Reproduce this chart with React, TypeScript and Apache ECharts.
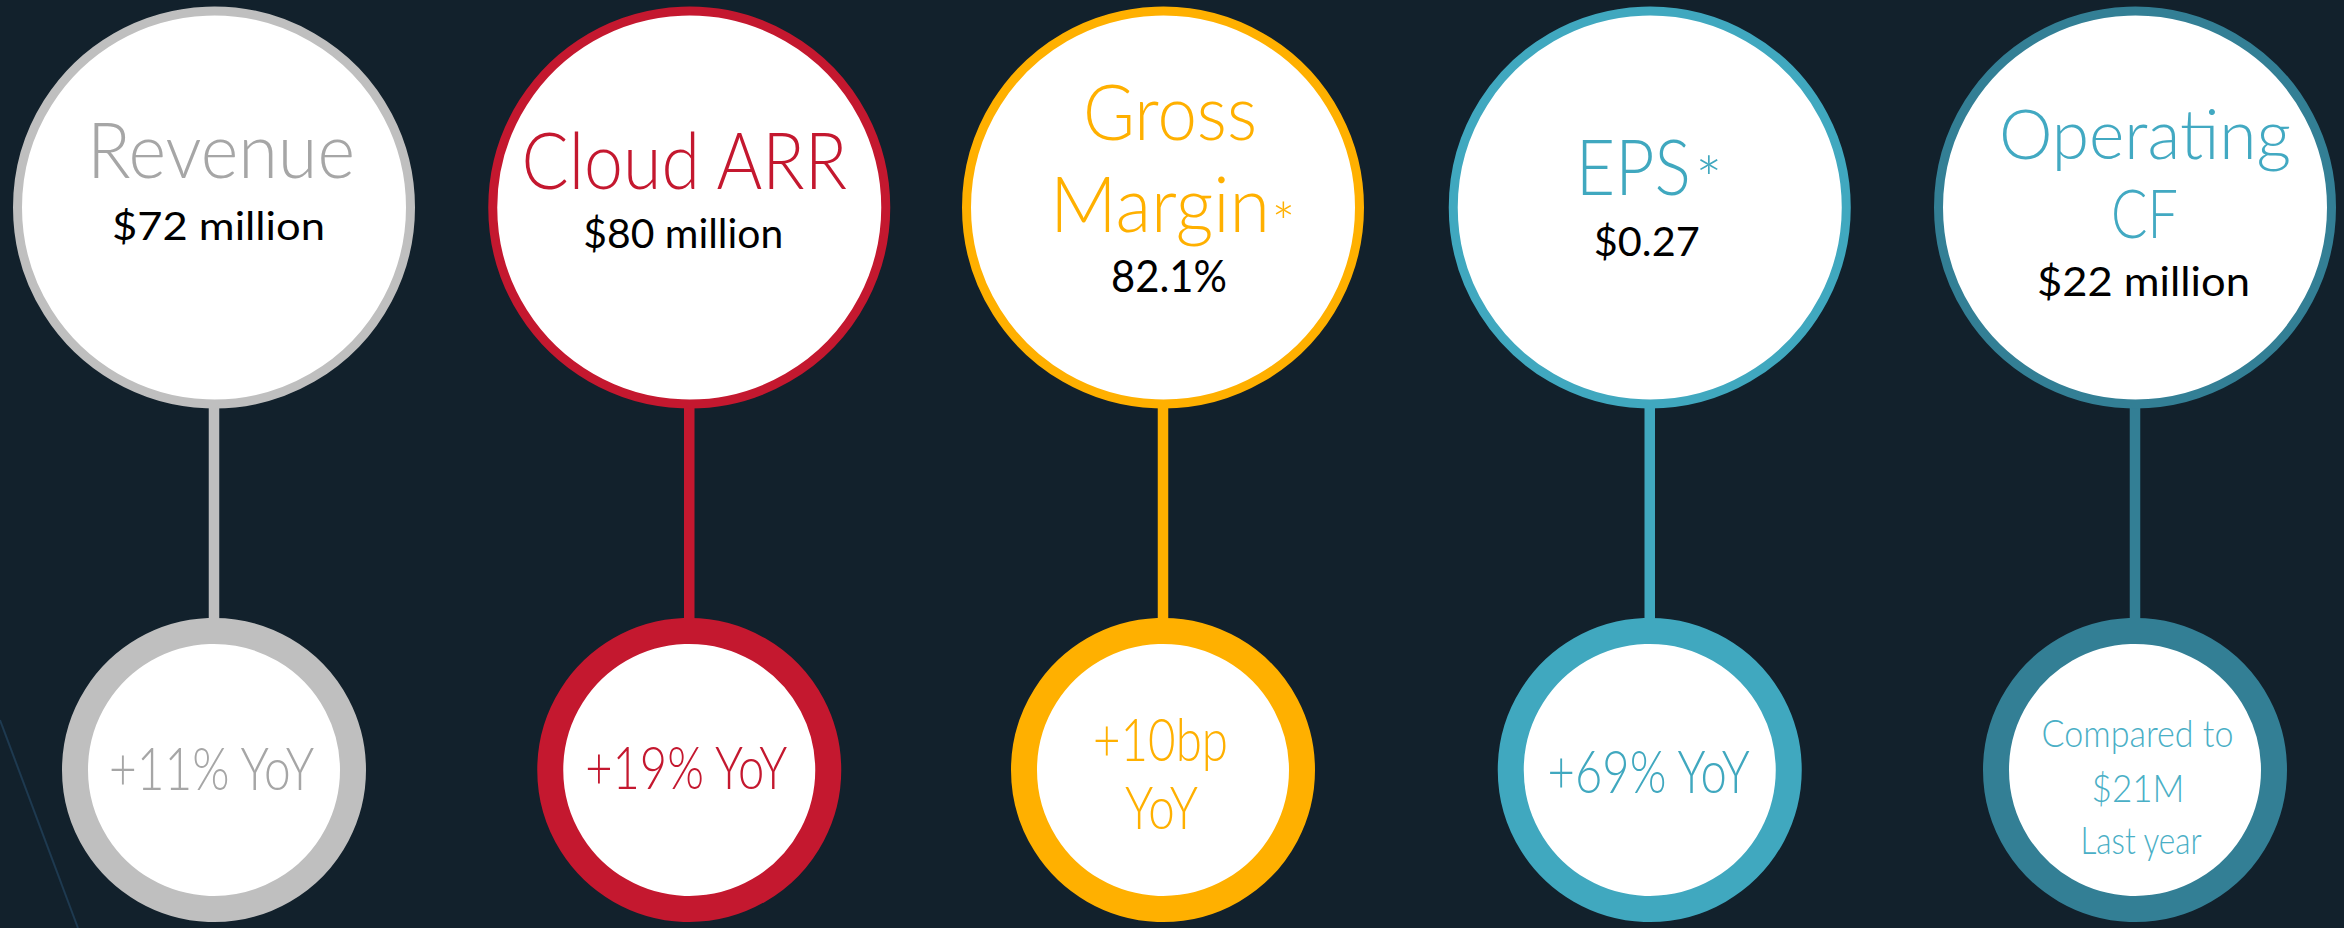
import React, { useEffect, useRef } from "react";
import * as echarts from "echarts";

// ---------- data ----------
const metrics = ["Revenue", "Cloud ARR", "Gross Margin", "EPS", "Operating CF"];
const titleLines = [["Revenue"], ["Cloud ARR"], ["Gross", "Margin"], ["EPS"], ["Operating", "CF"]];
const footnoteMarks = ["", "", "*", "*", ""];
const values = ["$72 million", "$80 million", "82.1%", "$0.27", "$22 million"];
const changeLines = [["+11% YoY"], ["+19% YoY"], ["+10bp", "YoY"], ["+69% YoY"], ["Compared to", "$21M", "Last year"]];
const levels = { metric: 1, change: 0 };

// ---------- styles / layout ----------
const ringColors = ["#BFBFBF", "#C4182F", "#FFB000", "#40A8BF", "#337F95"];
const titleColors = ["#A6A6A6", "#C4182F", "#FFB000", "#40A8BF", "#42A9C2"];
const changeColors = ["#A6A6A6", "#C4182F", "#FFB000", "#40A8BF", "#4AAFC6"];
const nudgeX = [0, -5, -11.5, -5, 0];

type TL = { dx: number; dy: number; size: number; w: number };
const titleLayout: TL[][] = [
  [{ dx: 7, dy: -56.5, size: 76, w: 268 }],
  [{ dx: -5, dy: -46.5, size: 78, w: 328 }],
  [{ dx: 7, dy: -94.5, size: 76, w: 174 }, { dx: -3, dy: -3, size: 76, w: 220 }],
  [{ dx: -16.5, dy: -40, size: 77, w: 115 }],
  [{ dx: 10, dy: -73.5, size: 68, w: 292 }, { dx: 9.5, dy: 6, size: 68, w: 67 }],
];
const markLayout = [null, null, { dx: 120.5, dy: 6, size: 56 }, { dx: 59, dy: -40, size: 64 }, null];
const valueLayout: TL[] = [
  { dx: 4.5, dy: 19, size: 39, w: 213 },
  { dx: -6, dy: 26, size: 40, w: 200 },
  { dx: 6, dy: 69, size: 44, w: 116 },
  { dx: -3, dy: 34.5, size: 40, w: 106 },
  { dx: 8.5, dy: 73.5, size: 41, w: 213 },
];
const changeLayout: TL[][] = [
  [{ dx: -2.5, dy: -1.5, size: 60, w: 207 }],
  [{ dx: -3, dy: -2.5, size: 59, w: 204 }],
  [{ dx: -2.5, dy: -30, size: 59, w: 135 }, { dx: -1.5, dy: 37.5, size: 59, w: 73 }],
  [{ dx: -1, dy: 1.5, size: 60, w: 204 }],
  [{ dx: 2.5, dy: -37, size: 38, w: 192 }, { dx: 3, dy: 19, size: 38, w: 93 }, { dx: 6, dy: 70, size: 38, w: 122 }],
];

const FONT = "Lato";
const TOP_R = 196.5;
const TOP_W = 9;
const BOT_R = 139;
const BOT_W = 26;

let measureCtx: CanvasRenderingContext2D | null = null;
function fitScale(text: string, size: number, weight: number, target: number) {
  if (!measureCtx) measureCtx = document.createElement("canvas").getContext("2d");
  if (!measureCtx) return 1;
  measureCtx.font = `${weight} ${size}px ${FONT}`;
  const w = measureCtx.measureText(text).width;
  return w > 0 ? target / w : 1;
}

function textEl(text: string, x: number, y: number, size: number, weight: number, color: string, target?: number) {
  const s = target ? fitScale(text, size, weight, target) : 1;
  return {
    type: "text",
    x,
    y: y - 0.029 * size,
    scaleX: s,
    style: {
      text,
      fill: color,
      fontSize: size,
      fontFamily: FONT,
      fontWeight: weight,
      align: "center",
      verticalAlign: "middle",
    },
  };
}

export default function App() {
  const ref = useRef<HTMLDivElement>(null);
  useEffect(() => {
    if (!ref.current) return;
    const chart = echarts.init(ref.current, undefined, { renderer: "svg" });
    const data = metrics.map((_, i) => [i, levels.metric, levels.change]);
    chart.setOption({
      animation: false,
      backgroundColor: "#12212C",
      grid: { left: 214, right: 209, top: 207.5, bottom: 158 },
      xAxis: { type: "category", data: metrics, boundaryGap: false, show: false },
      yAxis: { type: "value", min: 0, max: 1, show: false },
      graphic: [
        {
          type: "line",
          shape: { x1: 0, y1: 720, x2: 78, y2: 928 },
          style: { stroke: "#1E3A50", lineWidth: 2 },
          z: 0,
        },
      ],
      series: [
        {
          type: "custom",
          data,
          encode: { x: 0, y: 1 },
          clip: false,
          renderItem: (params: any, api: any) => {
            const i = params.dataIndex;
            const top = api.coord([api.value(0), api.value(1)]);
            const bot = api.coord([api.value(0), api.value(2)]);
            const cx = top[0] + nudgeX[i];
            const ty = top[1];
            const by = bot[1];
            const col = ringColors[i];
            const children: any[] = [
              {
                type: "line",
                shape: { x1: cx, y1: ty, x2: cx, y2: by },
                style: { stroke: col, lineWidth: 10.5 },
              },
              {
                type: "circle",
                shape: { cx, cy: ty, r: TOP_R },
                style: { fill: "#FFFFFF", stroke: col, lineWidth: TOP_W },
              },
              {
                type: "circle",
                shape: { cx, cy: by, r: BOT_R },
                style: { fill: "#FFFFFF", stroke: col, lineWidth: BOT_W },
              },
            ];
            titleLines[i].forEach((t, k) => {
              const L = titleLayout[i][k];
              children.push(textEl(t, cx + L.dx, ty + L.dy, L.size, 300, titleColors[i], L.w));
            });
            const m = markLayout[i];
            if (footnoteMarks[i] && m) {
              children.push(textEl(footnoteMarks[i], cx + m.dx, ty + m.dy + 0.18 * m.size, m.size, 300, titleColors[i]));
            }
            const V = valueLayout[i];
            children.push(textEl(values[i], cx + V.dx, ty + V.dy, V.size, 400, "#000000", V.w));
            changeLines[i].forEach((t, k) => {
              const L = changeLayout[i][k];
              children.push(textEl(t, cx + L.dx, by + L.dy, L.size, 300, changeColors[i], L.w));
            });
            return { type: "group", children };
          },
        },
      ],
    });
    return () => chart.dispose();
  }, []);
  return (
    <div
      ref={ref}
      style={{ position: "absolute", left: 0, top: 0, width: 2344, height: 928 }}
    />
  );
}
